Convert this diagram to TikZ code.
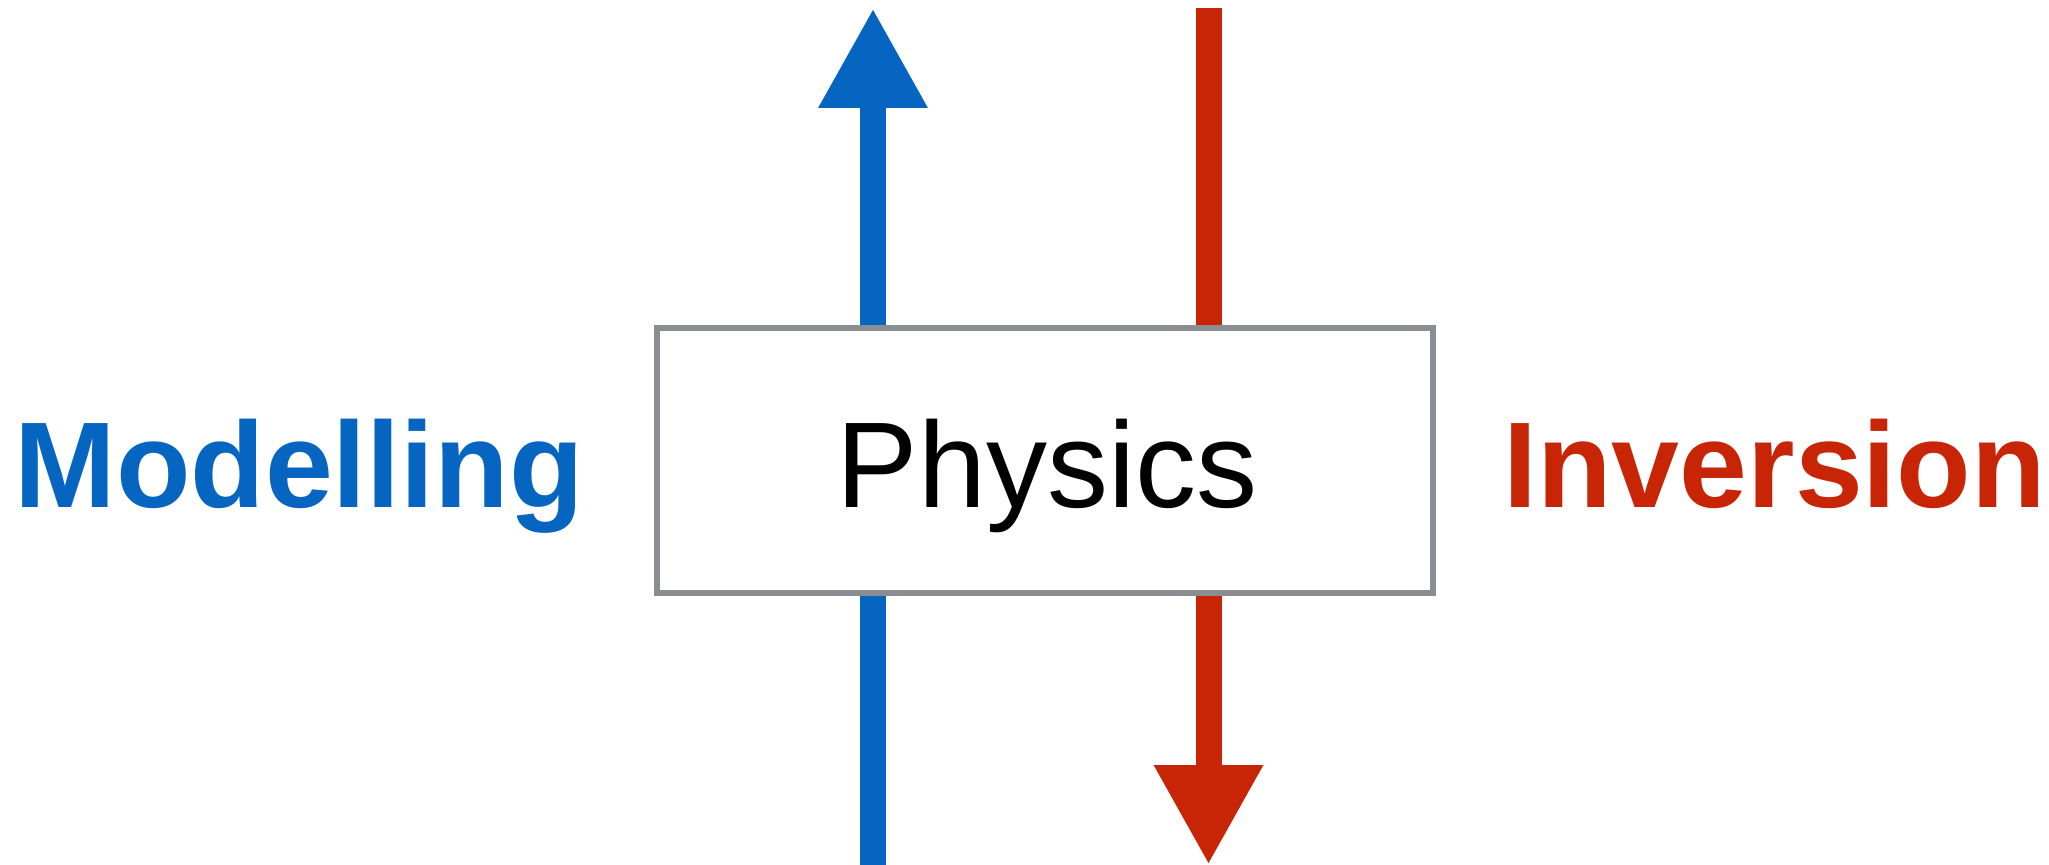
\documentclass[tikz,border=0pt]{standalone}
\usepackage{fontspec}
\setmainfont{Liberation Sans}
\usetikzlibrary{positioning,arrows.meta}
\definecolor{modblue}{RGB}{5,101,192}
\definecolor{invred}{RGB}{200,37,6}
\definecolor{boxgray}{RGB}{138,141,145}

\begin{document}
\begin{tikzpicture}[
  x=0.5pt, y=-0.5pt,
  box/.style={draw=boxgray, fill=white, line width=3pt, minimum width=388pt, minimum height=132.5pt, inner sep=0pt},
  lbl/.style={font=\fontsize{61}{70}\selectfont, inner sep=0pt, anchor=base west},
  shaft/.style={line width=13pt},
  tip/.style={-{Triangle[width=51pt,length=50pt]}}
]
  \useasboundingbox (0,0) rectangle (2049,865);

  % arrow ends
  \coordinate (mbot) at (873,865);
  \coordinate (mtip) at (873,8);
  \coordinate (itop) at (1208.5,8);
  \coordinate (itip) at (1208.5,865);

  \node[box] (phys) at (1045,460.5) {};
  \node[lbl, anchor=base] (physlbl) at (1047,508) {Physics};
  \node[lbl, text=modblue] (model) at (14,508) {\bfseries Modelling};
  \node[lbl, text=invred] (inv) at (1503,508) {\bfseries Inversion};

  \draw[shaft, modblue] (mbot) -- (phys.south -| mbot);
  \draw[shaft, modblue, tip] (phys.north -| mtip) -- (mtip);
  \draw[shaft, invred] (itop) -- (phys.north -| itop);
  \draw[shaft, invred, tip] (phys.south -| itip) -- (itip);
\end{tikzpicture}
\end{document}
